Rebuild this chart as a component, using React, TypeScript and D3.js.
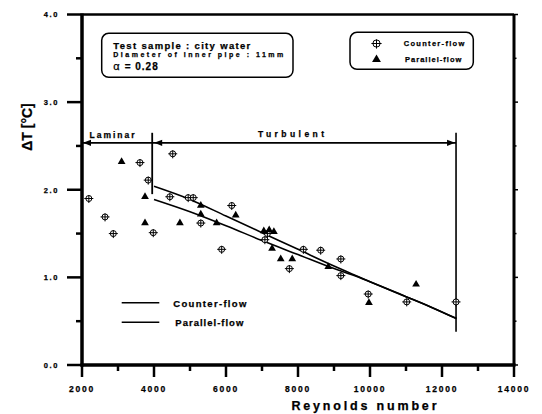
import React from "react";
import * as d3 from "d3";

// ---- data ----
const counterRe = [2190, 2640, 2870, 3610, 3840, 3980, 4520, 4440, 4950, 5090, 5300, 6160, 5880, 7080, 7150, 7760, 8150, 8630, 9190, 9190, 9950, 11020, 12390];
const counterT = [1.90, 1.69, 1.50, 2.31, 2.11, 1.51, 2.41, 1.92, 1.91, 1.91, 1.62, 1.82, 1.32, 1.43, 1.50, 1.10, 1.32, 1.31, 1.21, 1.02, 0.81, 0.72, 0.72];

const parallelRe = [3100, 3750, 3750, 4720, 5300, 5300, 6270, 5740, 7050, 7200, 7330, 7280, 7520, 7840, 8840, 9970, 11280];
const parallelT = [2.32, 1.92, 1.62, 1.62, 1.82, 1.72, 1.71, 1.62, 1.53, 1.54, 1.52, 1.33, 1.21, 1.21, 1.12, 0.71, 0.92];

const fitRe = [4000, 5000, 6000, 7000, 8000, 9000, 9500, 10000, 11000, 11700, 12400];
const counterFitT = [2.04, 1.89, 1.70, 1.51, 1.32, 1.13, 1.04, 0.95, 0.78, 0.66, 0.53];
const parallelFitT = [1.89, 1.75, 1.59, 1.42, 1.26, 1.10, 1.03, 0.95, 0.78, 0.66, 0.53];

const xTicks = [2000, 4000, 6000, 8000, 10000, 12000, 14000];
const xTickLabels = ["2000", "4000", "6000", "8000", "10000", "12000", "14000"];
const yTicks = [0, 1, 2, 3, 4];
const yTickLabels = ["0.0", "1.0", "2.0", "3.0", "4.0"];

// regime annotation (data units)
const regimeArrowT = 2.535;
const laminarRange = [2000, 3950];
const turbulentRange = [3950, 12390];
const laminarDivider = { re: 3950, t0: 1.95, t1: 2.65 };
const turbulentEnd = { re: 12390, t0: 0.38, t1: 2.65 };

const FONT = "'Liberation Sans', Arial, sans-serif";
const heavy = { fontWeight: "bold" as const, stroke: "black", strokeWidth: 0.25 };

export default function App() {
  const W = 542, H = 414;
  const x = d3.scaleLinear().domain([2000, 14000]).range([82, 514]);
  const y = d3.scaleLinear().domain([0, 4]).range([365, 14.5]);

  const mkLine = (vals: number[]) =>
    d3
      .line<number>()
      .x((_, i) => x(fitRe[i]))
      .y((d) => y(d))
      .curve(d3.curveMonotoneX)(vals) as string;
  const counterPath = mkLine(counterFitT);
  const parallelPath = mkLine(parallelFitT);

  const tri = d3.symbol().type(d3.symbolTriangle).size(26)() as string;
  const triLeg = d3.symbol().type(d3.symbolTriangle).size(34)() as string;

  const xMinor = d3.range(3000, 14000, 2000);
  const yMinor = [0.5, 1.5, 2.5, 3.5];

  const circleCross = (cx: number, cy: number, r: number, key: string) => (
    <g key={key}>
      <circle cx={cx} cy={cy} r={r} fill="white" stroke="black" strokeWidth={1} />
      <line x1={cx - r - 1.5} x2={cx + r + 1.5} y1={cy} y2={cy} stroke="black" strokeWidth={1} />
      <line x1={cx} x2={cx} y1={cy - r - 0.5} y2={cy + r + 1.5} stroke="black" strokeWidth={1} />
    </g>
  );

  const ah = (px: number, py: number, dir: number) =>
    `M${px},${py} L${px - dir * 8},${py - 3.2} L${px - dir * 8},${py + 3.2} Z`;

  const yArrow = y(regimeArrowT);

  return (
    <svg
      width={W}
      height={H}
      style={{ position: "absolute", left: 0, top: 0, background: "white" }}
      fontFamily={FONT}
    >
      <rect width={W} height={H} fill="white" />

      {/* frame */}
      <line x1={x(2000)} x2={x(14000)} y1={y(4)} y2={y(4)} stroke="black" strokeWidth={2.5} />
      <line x1={x(14000)} x2={x(14000)} y1={y(4)} y2={y(0)} stroke="black" strokeWidth={3} />
      <line x1={x(2000)} x2={x(2000)} y1={y(4) - 1} y2={y(0) + 1.5} stroke="black" strokeWidth={3.5} />
      <line x1={x(2000) - 1.5} x2={x(14000) + 1.5} y1={y(0)} y2={y(0)} stroke="black" strokeWidth={3.5} />

      {/* y ticks */}
      {yTicks.map((t, i) => (
        <g key={"yt" + t}>
          <line x1={x(2000) - 15} x2={x(2000)} y1={y(t)} y2={y(t)} stroke="black" strokeWidth={2.5} />
          <line x1={x(14000)} x2={x(14000) + 4} y1={y(t)} y2={y(t)} stroke="black" strokeWidth={1.5} />
          <text x={59} y={y(t) + 2.8} textAnchor="end" fontSize={7.5} letterSpacing={1.6} {...heavy}>
            {yTickLabels[i]}
          </text>
        </g>
      ))}
      {yMinor.map((t) => (
        <g key={"ym" + t}>
          <line x1={x(2000) - 6} x2={x(2000)} y1={y(t)} y2={y(t)} stroke="black" strokeWidth={2.5} />
          <line x1={x(14000)} x2={x(14000) + 2.5} y1={y(t)} y2={y(t)} stroke="black" strokeWidth={1.5} />
        </g>
      ))}

      {/* x ticks */}
      {xTicks.map((t, i) => (
        <g key={"xt" + t}>
          <line x1={x(t)} x2={x(t)} y1={y(0)} y2={y(0) + 12} stroke="black" strokeWidth={2.5} />
          <text x={x(t)} y={392} textAnchor="middle" fontSize={8.5} letterSpacing={1.8} {...heavy}>
            {xTickLabels[i]}
          </text>
        </g>
      ))}
      {xMinor.map((t) => (
        <line key={"xm" + t} x1={x(t)} x2={x(t)} y1={y(0)} y2={y(0) + 6} stroke="black" strokeWidth={2.5} />
      ))}

      {/* axis titles */}
      <text x={364} y={410} textAnchor="middle" fontSize={12.5} textLength={145} lengthAdjust="spacing" {...heavy}>
        Reynolds number
      </text>
      <text transform={`translate(32,127) rotate(-90)`} textAnchor="middle" fontSize={14} {...heavy}>
        ΔT [°C]
      </text>

      {/* regime annotations */}
      <line x1={x(laminarRange[0])} x2={x(turbulentRange[1])} y1={yArrow} y2={yArrow} stroke="black" strokeWidth={1.8} />
      <path d={ah(x(laminarRange[0]) + 1, yArrow, -1)} fill="black" />
      <path d={ah(x(turbulentRange[0]) + 2, yArrow, -1)} fill="black" />
      <path d={ah(x(turbulentRange[1]) - 1, yArrow, 1)} fill="black" />
      <line
        x1={x(laminarDivider.re)}
        x2={x(laminarDivider.re)}
        y1={y(laminarDivider.t1)}
        y2={y(laminarDivider.t0)}
        stroke="black"
        strokeWidth={1.8}
      />
      <line
        x1={x(turbulentEnd.re)}
        x2={x(turbulentEnd.re)}
        y1={y(turbulentEnd.t1)}
        y2={y(turbulentEnd.t0)}
        stroke="black"
        strokeWidth={1.6}
      />
      <text x={89.5} y={137.5} fontSize={8.5} textLength={45} lengthAdjust="spacing" {...heavy}>
        Laminar
      </text>
      <text x={258} y={136.5} fontSize={8.5} textLength={66} lengthAdjust="spacing" {...heavy}>
        Turbulent
      </text>

      {/* fitted lines */}
      <path d={counterPath} fill="none" stroke="black" strokeWidth={1.6} />
      <path d={parallelPath} fill="none" stroke="black" strokeWidth={1.6} />

      {/* data points */}
      {counterRe.map((r, i) => circleCross(x(r), y(counterT[i]), 3, "c" + i))}
      {parallelRe.map((r, i) => (
        <path key={"p" + i} d={tri} transform={`translate(${x(r)},${y(parallelT[i])})`} fill="black" />
      ))}

      {/* info box */}
      <rect x={101.7} y={33.3} width={191.3} height={44} rx={7} fill="white" stroke="black" strokeWidth={1.5} />
      <text x={113.3} y={48.5} fontSize={9.5} textLength={137} lengthAdjust="spacing" {...heavy}>
        Test sample : city water
      </text>
      <text x={113.3} y={57.3} fontSize={7} textLength={170} lengthAdjust="spacing" {...heavy}>
        Diameter of inner pipe : 11mm
      </text>
      <text x={113.3} y={69.8} fontSize={10} {...heavy}>
        <tspan fontWeight="normal" fontSize={11}>α</tspan>
        <tspan dx={5} letterSpacing={1}>= 0.28</tspan>
      </text>

      {/* symbol legend */}
      <rect x={350} y={32.3} width={123.3} height={37} rx={7} fill="white" stroke="black" strokeWidth={1.5} />
      {circleCross(376.5, 43.5, 3.6, "legc")}
      <path d={triLeg} transform={`translate(376.5,59.5)`} fill="black" />
      <text x={403.7} y={46} fontSize={7.5} textLength={60.6} lengthAdjust="spacing" {...heavy}>
        Counter-flow
      </text>
      <text x={405} y={61.7} fontSize={7.5} textLength={56.4} lengthAdjust="spacing" {...heavy}>
        Parallel-flow
      </text>

      {/* line legend */}
      <line x1={121.7} x2={159.3} y1={302.7} y2={302.7} stroke="black" strokeWidth={1.6} />
      <line x1={121.7} x2={159.3} y1={322.3} y2={322.3} stroke="black" strokeWidth={1.6} />
      <text x={173.3} y={307.3} fontSize={9.5} textLength={73} lengthAdjust="spacing" {...heavy}>
        Counter-flow
      </text>
      <text x={175.3} y={326} fontSize={9.5} textLength={68} lengthAdjust="spacing" {...heavy}>
        Parallel-flow
      </text>
    </svg>
  );
}
